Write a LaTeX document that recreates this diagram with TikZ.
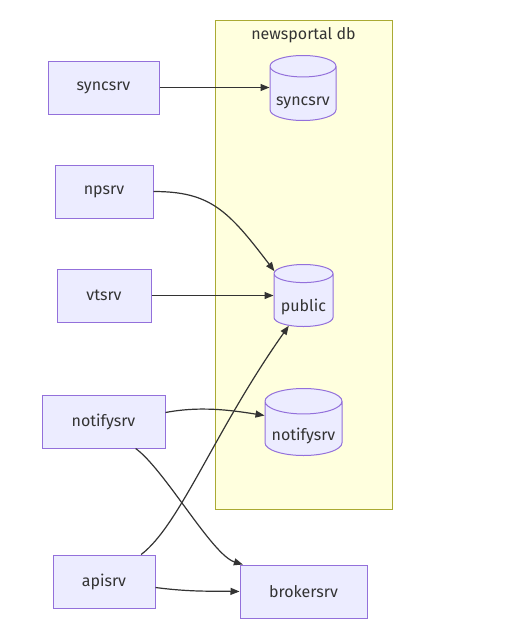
\documentclass[tikz,border=0pt]{standalone}
\usepackage{fontspec}
\setmainfont{Fira Sans}
\usetikzlibrary{positioning,arrows.meta,shapes.geometric}
\definecolor{boxfill}{HTML}{ECECFF}
\definecolor{boxline}{HTML}{9370DB}
\definecolor{grpfill}{HTML}{FFFFDE}
\definecolor{grpline}{HTML}{AAAA33}
\definecolor{ink}{HTML}{333333}
\tikzset{
  srv/.style={rectangle, draw=boxline, fill=boxfill, line width=1pt, minimum height=53pt, inner sep=0pt, text=ink, font=\fontsize{16}{19}\selectfont},
  db/.style={cylinder, shape border rotate=90, aspect=0.4, draw=boxline, fill=boxfill, line width=1pt, inner sep=0pt, anchor=north,
             text height=23pt, text depth=0pt, text=ink, font=\fontsize{16}{19}\selectfont},
  fwd/.style={-{Triangle[length=9pt,width=7pt]}, draw=ink, line width=1.2pt},
}
\begin{document}
\begin{tikzpicture}[x=1pt, y=-1pt]
  \useasboundingbox (0,0) rectangle (515,637);
  % database group
  \node[draw=grpline, fill=grpfill, line width=1pt, minimum width=177pt, minimum height=489pt, inner sep=0pt] (grp) at (303.5,264.5) {};
  \node[text=ink, font=\fontsize{16}{19}\selectfont] (grptitle) at (303.5,35) {newsportal db};

  % services
  \node[srv, minimum width=111pt] (sync) at (103.5,87.5) {syncsrv};
  \node[srv, minimum width=98pt] (np) at (104,191.5) {npsrv};
  \node[srv, minimum width=94pt] (vt) at (104,295.5) {vtsrv};
  \node[srv, minimum width=123pt] (notify) at (103.5,421.5) {notifysrv};
  \node[srv, minimum width=102pt] (api) at (104,581.5) {apisrv};
  \node[srv, minimum width=127pt] (broker) at (303.5,591.5) {brokersrv};

  % databases
  \node[db, minimum width=66pt, minimum height=65pt] (syncdb) at (303,55) {syncsrv};
  \node[db, minimum width=59pt, minimum height=62pt] (public) at (303.5,264) {public};
  \node[db, minimum width=77pt, minimum height=67pt] (notifydb) at (303.5,388) {notifysrv};

  \draw[fwd] (sync.east) -- (sync.east -| syncdb.west);
  \draw[fwd] (np.east) .. controls (210,191.5) and (228,210) .. (public.135);
  \draw[fwd] (vt.east) -- (vt.east -| public.west);
  \draw[fwd] ([yshift=9pt]notify.east) .. controls (200,406) and (230,410) .. ([yshift=6pt]notify.east -| notifydb.west);
  \draw[fwd] (notify.-40) .. controls (165,470) and (212,555) .. (broker.156);
  \draw[fwd] (api.36) .. controls (180,525) and (215,430) .. (public.240);
  \draw[fwd] ([yshift=-6pt]api.east) .. controls (190,592) and (210,591) .. (broker.west);
\end{tikzpicture}
\end{document}
